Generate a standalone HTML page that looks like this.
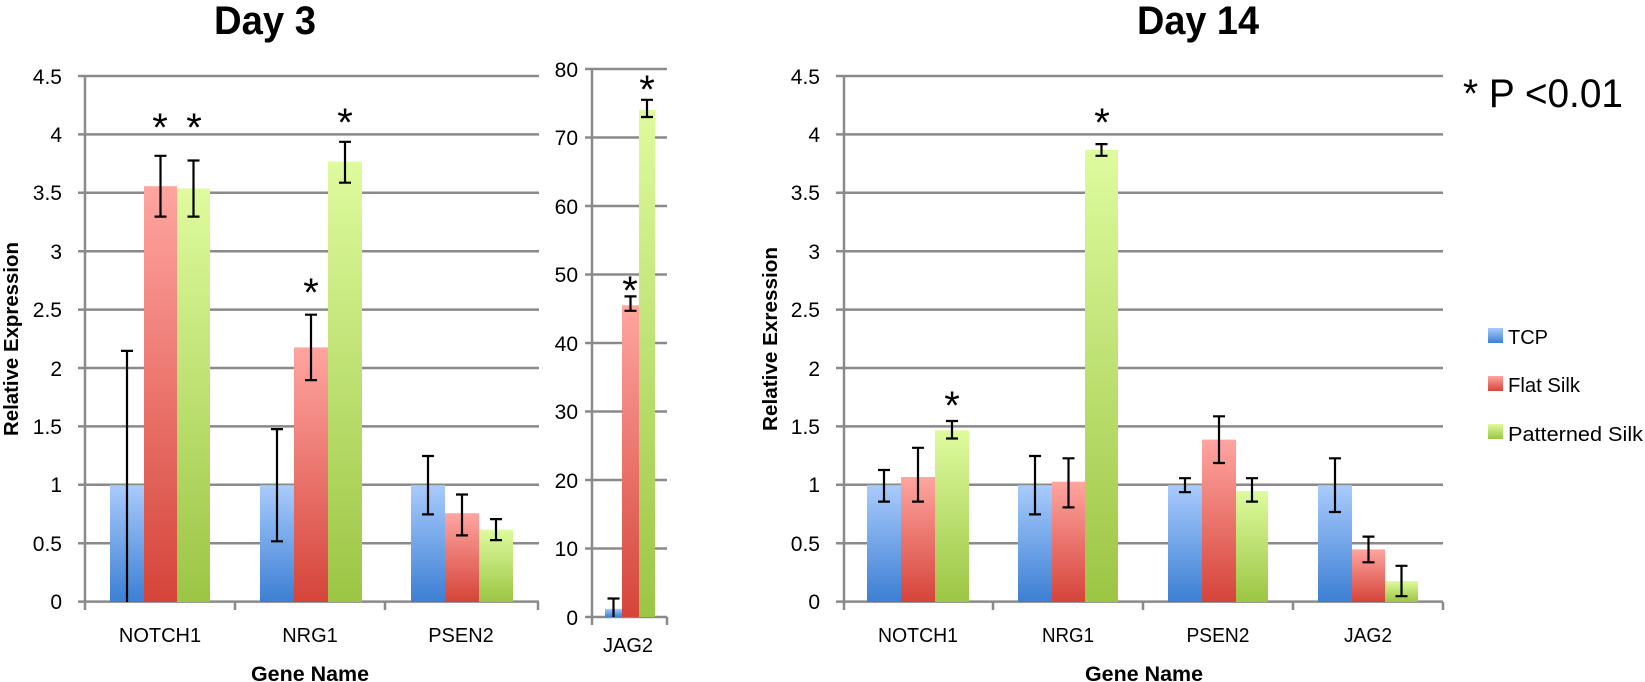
<!DOCTYPE html>
<html><head><meta charset="utf-8"><style>
html,body{margin:0;padding:0;background:#fff;}
svg{display:block;font-family:"Liberation Sans",sans-serif;}
</style></head><body>
<svg width="1645" height="682" viewBox="0 0 1645 682" xmlns="http://www.w3.org/2000/svg">
<defs>
<linearGradient id="gb" x1="0" y1="0" x2="0" y2="1"><stop offset="0" stop-color="#a9cbfd"/><stop offset="1" stop-color="#3c7fd3"/></linearGradient>
<linearGradient id="gr" x1="0" y1="0" x2="0" y2="1"><stop offset="0" stop-color="#ffa5a0"/><stop offset="1" stop-color="#d5443a"/></linearGradient>
<linearGradient id="gg" x1="0" y1="0" x2="0" y2="1"><stop offset="0" stop-color="#defb9e"/><stop offset="1" stop-color="#9cc544"/></linearGradient>
</defs>

<text x="265" y="34" font-size="40" font-weight="bold" text-anchor="middle" textLength="102" lengthAdjust="spacingAndGlyphs">Day 3</text>
<text x="1198" y="34" font-size="40" font-weight="bold" text-anchor="middle" textLength="122" lengthAdjust="spacingAndGlyphs">Day 14</text>

<g stroke="#8a8a8a" stroke-width="2.5">
<line x1="78" x2="539" y1="76" y2="76"/><line x1="78" x2="539" y1="134.4" y2="134.4"/><line x1="78" x2="539" y1="192.8" y2="192.8"/><line x1="78" x2="539" y1="251.2" y2="251.2"/><line x1="78" x2="539" y1="309.6" y2="309.6"/><line x1="78" x2="539" y1="368" y2="368"/><line x1="78" x2="539" y1="426.4" y2="426.4"/><line x1="78" x2="539" y1="484.8" y2="484.8"/><line x1="78" x2="539" y1="543.2" y2="543.2"/><line x1="78" x2="539" y1="601.6" y2="601.6"/>
<line x1="85" x2="85" y1="76" y2="610"/><line x1="235" x2="235" y1="602" y2="610"/><line x1="385" x2="385" y1="602" y2="610"/><line x1="538" x2="538" y1="602" y2="610"/>
</g>
<g font-size="21" text-anchor="end">
<text x="62" y="84">4.5</text><text x="62" y="142">4</text><text x="62" y="200">3.5</text><text x="62" y="259">3</text><text x="62" y="317">2.5</text><text x="62" y="376">2</text><text x="62" y="434">1.5</text><text x="62" y="492">1</text><text x="62" y="551">0.5</text><text x="62" y="609">0</text>
</g>
<rect x="110" y="485.2" width="34" height="116.8" fill="url(#gb)"/>
<rect x="144" y="186.2" width="33" height="415.8" fill="url(#gr)"/>
<rect x="177" y="188.5" width="33" height="413.5" fill="url(#gg)"/>
<rect x="260" y="485.2" width="34" height="116.8" fill="url(#gb)"/>
<rect x="294" y="347.4" width="34" height="254.6" fill="url(#gr)"/>
<rect x="328" y="161.7" width="34" height="440.3" fill="url(#gg)"/>
<rect x="411" y="485.2" width="34" height="116.8" fill="url(#gb)"/>
<rect x="445" y="513.2" width="34" height="88.8" fill="url(#gr)"/>
<rect x="479" y="529.6" width="34" height="72.4" fill="url(#gg)"/>
<g stroke="#000" stroke-width="2.2" fill="none">
<path d="M127 602V350.9M121 350.9h12"/>
<path d="M160.5 216.6V155.8M154.5 216.6h12M154.5 155.8h12"/>
<path d="M193.5 216.6V160.5M187.5 216.6h12M187.5 160.5h12"/>
<path d="M277 541.3V429.1M271 541.3h12M271 429.1h12"/>
<path d="M311 380.1V314.7M305 380.1h12M305 314.7h12"/>
<path d="M345 182.7V141.8M339 182.7h12M339 141.8h12"/>
<path d="M428 514.4V456M422 514.4h12M422 456h12"/>
<path d="M462 535.4V494.5M456 535.4h12M456 494.5h12"/>
<path d="M496 540.1V519.1M490 540.1h12M490 519.1h12"/>
</g>
<g font-size="40" text-anchor="middle">
<text x="160" y="141">*</text><text x="194" y="141">*</text><text x="311" y="306">*</text><text x="345" y="136">*</text>
</g>
<g font-size="20" text-anchor="middle">
<text x="160" y="642">NOTCH1</text><text x="310" y="642">NRG1</text><text x="461" y="642">PSEN2</text>
</g>
<text x="310" y="681" font-size="21" font-weight="bold" text-anchor="middle" textLength="118" lengthAdjust="spacingAndGlyphs">Gene Name</text>
<text transform="translate(18 339) rotate(-90)" font-size="20" font-weight="bold" text-anchor="middle" textLength="194" lengthAdjust="spacingAndGlyphs">Relative Expression</text>

<g stroke="#8a8a8a" stroke-width="2.5">
<line x1="585" x2="667" y1="617" y2="617"/><line x1="585" x2="667" y1="548.5" y2="548.5"/><line x1="585" x2="667" y1="480" y2="480"/><line x1="585" x2="667" y1="411.5" y2="411.5"/><line x1="585" x2="667" y1="343" y2="343"/><line x1="585" x2="667" y1="274.5" y2="274.5"/><line x1="585" x2="667" y1="206" y2="206"/><line x1="585" x2="667" y1="137.5" y2="137.5"/><line x1="585" x2="667" y1="69" y2="69"/>
<line x1="592" x2="592" y1="69" y2="625"/><line x1="667" x2="667" y1="617" y2="625"/>
</g>
<g font-size="21" text-anchor="end">
<text x="578" y="625">0</text><text x="578" y="556">10</text><text x="578" y="488">20</text><text x="578" y="419">30</text><text x="578" y="351">40</text><text x="578" y="282">50</text><text x="578" y="214">60</text><text x="578" y="145">70</text><text x="578" y="77">80</text>
</g>
<rect x="605" y="608.8" width="17" height="8.2" fill="url(#gb)"/>
<rect x="622" y="305.3" width="17" height="311.7" fill="url(#gr)"/>
<rect x="639" y="110" width="16" height="507" fill="url(#gg)"/>
<g stroke="#000" stroke-width="2.2" fill="none">
<path d="M613.5 617V598.5M607.5 598.5h12"/>
<path d="M630.5 310.8V296.4M624.5 310.8h12M624.5 296.4h12"/>
<path d="M647 117V99.8M641 117h12M641 99.8h12"/>
</g>
<g font-size="40" text-anchor="middle"><text x="630" y="304">*</text><text x="647" y="103">*</text></g>
<text x="628" y="652" font-size="20" text-anchor="middle">JAG2</text>

<g stroke="#8a8a8a" stroke-width="2.5">
<line x1="836" x2="1443" y1="76" y2="76"/><line x1="836" x2="1443" y1="134.4" y2="134.4"/><line x1="836" x2="1443" y1="192.8" y2="192.8"/><line x1="836" x2="1443" y1="251.2" y2="251.2"/><line x1="836" x2="1443" y1="309.6" y2="309.6"/><line x1="836" x2="1443" y1="368" y2="368"/><line x1="836" x2="1443" y1="426.4" y2="426.4"/><line x1="836" x2="1443" y1="484.8" y2="484.8"/><line x1="836" x2="1443" y1="543.2" y2="543.2"/><line x1="836" x2="1443" y1="601.6" y2="601.6"/>
<line x1="844" x2="844" y1="76" y2="610"/><line x1="993" x2="993" y1="602" y2="610"/><line x1="1143" x2="1143" y1="602" y2="610"/><line x1="1293" x2="1293" y1="602" y2="610"/><line x1="1443" x2="1443" y1="602" y2="610"/>
</g>
<g font-size="21" text-anchor="end">
<text x="820" y="84">4.5</text><text x="820" y="142">4</text><text x="820" y="200">3.5</text><text x="820" y="259">3</text><text x="820" y="317">2.5</text><text x="820" y="376">2</text><text x="820" y="434">1.5</text><text x="820" y="492">1</text><text x="820" y="551">0.5</text><text x="820" y="609">0</text>
</g>
<rect x="867" y="485.2" width="34" height="116.8" fill="url(#gb)"/>
<rect x="901" y="477" width="34" height="125" fill="url(#gr)"/>
<rect x="935" y="430.3" width="34" height="171.7" fill="url(#gg)"/>
<rect x="1018" y="485.2" width="34" height="116.8" fill="url(#gb)"/>
<rect x="1052" y="481.7" width="33" height="120.3" fill="url(#gr)"/>
<rect x="1085" y="150" width="33" height="452" fill="url(#gg)"/>
<rect x="1168" y="485.2" width="34" height="116.8" fill="url(#gb)"/>
<rect x="1202" y="439.6" width="34" height="162.4" fill="url(#gr)"/>
<rect x="1236" y="491" width="32" height="111" fill="url(#gg)"/>
<rect x="1318" y="485.2" width="34" height="116.8" fill="url(#gb)"/>
<rect x="1352" y="549.4" width="33" height="52.6" fill="url(#gr)"/>
<rect x="1385" y="581" width="33" height="21" fill="url(#gg)"/>
<g stroke="#000" stroke-width="2.2" fill="none">
<path d="M884 501.6V470M878 501.6h12M878 470h12"/>
<path d="M918 501.6V447.8M912 501.6h12M912 447.8h12"/>
<path d="M952 438.5V421M946 438.5h12M946 421h12"/>
<path d="M1035 514.4V456M1029 514.4h12M1029 456h12"/>
<path d="M1068.5 507.4V458.3M1062.5 507.4h12M1062.5 458.3h12"/>
<path d="M1101.5 155.8V144.1M1095.5 155.8h12M1095.5 144.1h12"/>
<path d="M1185 492.2V478.2M1179 492.2h12M1179 478.2h12"/>
<path d="M1219 463V416.3M1213 463h12M1213 416.3h12"/>
<path d="M1252 501.6V478.2M1246 501.6h12M1246 478.2h12"/>
<path d="M1335 512V458.3M1329 512h12M1329 458.3h12"/>
<path d="M1368.5 562.3V536.6M1362.5 562.3h12M1362.5 536.6h12"/>
<path d="M1401.5 596.2V565.8M1395.5 596.2h12M1395.5 565.8h12"/>
</g>
<g font-size="40" text-anchor="middle"><text x="952" y="419">*</text><text x="1102" y="136">*</text></g>
<g font-size="20" text-anchor="middle">
<text x="918" y="642" textLength="80" lengthAdjust="spacingAndGlyphs">NOTCH1</text>
<text x="1068" y="642" textLength="52" lengthAdjust="spacingAndGlyphs">NRG1</text>
<text x="1218" y="642" textLength="63" lengthAdjust="spacingAndGlyphs">PSEN2</text>
<text x="1368" y="642" textLength="48" lengthAdjust="spacingAndGlyphs">JAG2</text>
</g>
<text x="1144" y="681" font-size="21" font-weight="bold" text-anchor="middle" textLength="118" lengthAdjust="spacingAndGlyphs">Gene Name</text>
<text transform="translate(777 339) rotate(-90)" font-size="20" font-weight="bold" text-anchor="middle" textLength="184" lengthAdjust="spacingAndGlyphs">Relative Exression</text>

<text x="1463" y="107" font-size="40" textLength="160" lengthAdjust="spacingAndGlyphs">* P &lt;0.01</text>
<rect x="1488" y="328" width="15" height="15" fill="url(#gb)"/>
<rect x="1488" y="376" width="15" height="15" fill="url(#gr)"/>
<rect x="1488" y="424" width="15" height="15" fill="url(#gg)"/>
<g font-size="20">
<text x="1508" y="344" textLength="40" lengthAdjust="spacingAndGlyphs">TCP</text>
<text x="1508" y="392" textLength="72" lengthAdjust="spacingAndGlyphs">Flat Silk</text>
<text x="1508" y="441" textLength="135" lengthAdjust="spacingAndGlyphs">Patterned  Silk</text>
</g>
</svg>
</body></html>
